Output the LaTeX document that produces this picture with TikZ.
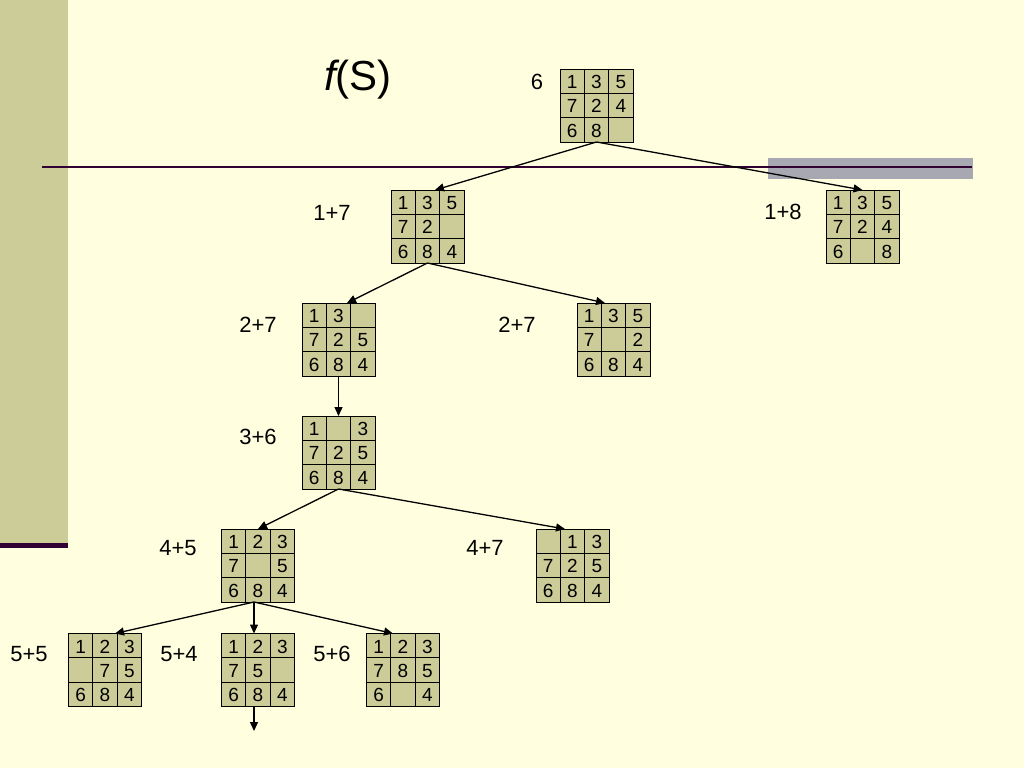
\documentclass[tikz,border=0pt]{standalone}
\usepackage{fontspec}
\setmainfont{Liberation Sans}
\usetikzlibrary{arrows.meta,calc}
\definecolor{paper}{HTML}{FFFFE0}
\definecolor{olive}{HTML}{CCCC99}
\definecolor{plum}{HTML}{330033}
\definecolor{slate}{HTML}{A8A8B2}
\definecolor{tile}{HTML}{CCCC99}

% one 3x3 puzzle board: name, x, y, tiles row by row
\newcommand{\board}[4]{%
  \node[board] (#1) at (#2,#3) {};
  \draw[cellline] (#1.north west) ++(24.33,0) -- ++(0,73) ++(24.33,0) -- ++(0,-73);
  \draw[cellline] (#1.north west) ++(0,24.33) -- ++(73,0) ++(0,24.33) -- ++(-73,0);
  \foreach \t [count=\k from 0] in {#4} {
    \pgfmathtruncatemacro{\brow}{\k/3}
    \pgfmathtruncatemacro{\bcol}{mod(\k,3)}
    \node[digit] at ($(#1.north west)+(\bcol*24.33+12.17,\brow*24.33+13)$) {\t};
  }%
}

\begin{document}
\begin{tikzpicture}[x=1pt,y=-1pt]
\tikzstyle{every node}+=[inner sep=0pt]
\tikzstyle{board}=[draw=black,fill=tile,line width=1pt,minimum size=73pt,outer sep=0pt]
\tikzstyle{cellline}=[black,line width=1pt]
\tikzstyle{digit}=[font=\fontsize{19}{21}\selectfont]
\tikzstyle{lbl}=[font=\fontsize{22}{24}\selectfont]
\tikzstyle{edge}=[black,line width=1.3pt,-{Triangle[length=9pt,width=8pt]}]
\useasboundingbox (0,0) rectangle (1024,768);
\fill [paper] (0,0) rectangle (1024,768);
\fill [olive] (0,0) rectangle (68,545);
\fill [plum] (0,543) rectangle (68,548);
\fill [slate] (768,158) rectangle (973,179);
\draw [plum,line width=2pt] (42,167) -- (972,167);
\node [font=\fontsize{42}{44}\selectfont] (fs) at (358,80) {{\itshape f}(S)};
\board{root}{596.5}{105.5}{1,3,5,7,2,4,6,8,{}}
\node [lbl] (l6) at (537,82) {6};
\board{n17}{427.5}{226.5}{1,3,5,7,2,{},6,8,4}
\node [lbl] (l17) at (332,213) {1+7};
\board{n18}{862.5}{226.5}{1,3,5,7,2,4,6,{},8}
\node [lbl] (l18) at (783,212) {1+8};
\board{n27a}{338.5}{339.5}{1,3,{},7,2,5,6,8,4}
\node [lbl] (l27a) at (258,325) {2+7};
\board{n27b}{613.5}{339.5}{1,3,5,7,{},2,6,8,4}
\node [lbl] (l27b) at (517,325) {2+7};
\board{n36}{338.5}{452.5}{1,{},3,7,2,5,6,8,4}
\node [lbl] (l36) at (258,437) {3+6};
\board{n45}{258}{565.5}{1,2,3,7,{},5,6,8,4}
\node [lbl] (l45) at (178,548) {4+5};
\board{n47}{572.5}{565.5}{{},1,3,7,2,5,6,8,4}
\node [lbl] (l47) at (485,548) {4+7};
\board{n55}{105}{670}{1,2,3,{},7,5,6,8,4}
\node [lbl] (l55) at (29,654) {5+5};
\board{n54}{258}{670}{1,2,3,7,5,{},6,8,4}
\node [lbl] (l54) at (179,654) {5+4};
\board{n56}{403}{670}{1,2,3,7,8,5,6,{},4}
\node [lbl] (l56) at (332,654) {5+6};
\coordinate (more) at (254,731);
% search tree
\draw [edge] (root.south) -- ([xshift=7.5pt]n17.north);
\draw [edge] (root.south) -- (n18.north);
\draw [edge] (n17.south) -- ([xshift=8.5pt]n27a.north);
\draw [edge] (n17.south) -- ([xshift=-8.5pt]n27b.north);
\draw [edge] (n27a.south) -- (n36.north);
\draw [edge] (n36.south) -- (n45.north);
\draw [edge] (n36.south) -- ([xshift=-7.5pt]n47.north);
\draw [edge] ([xshift=-4pt]n45.south) -- ([xshift=10pt]n55.north);
\draw [edge] ([xshift=-4pt]n45.south) -- ([xshift=-4pt]n54.north);
\draw [edge] ([xshift=-4pt]n45.south) -- ([xshift=-10pt]n56.north);
\draw [edge] ([xshift=-4pt]n54.south) -- (more);
\end{tikzpicture}
\end{document}
